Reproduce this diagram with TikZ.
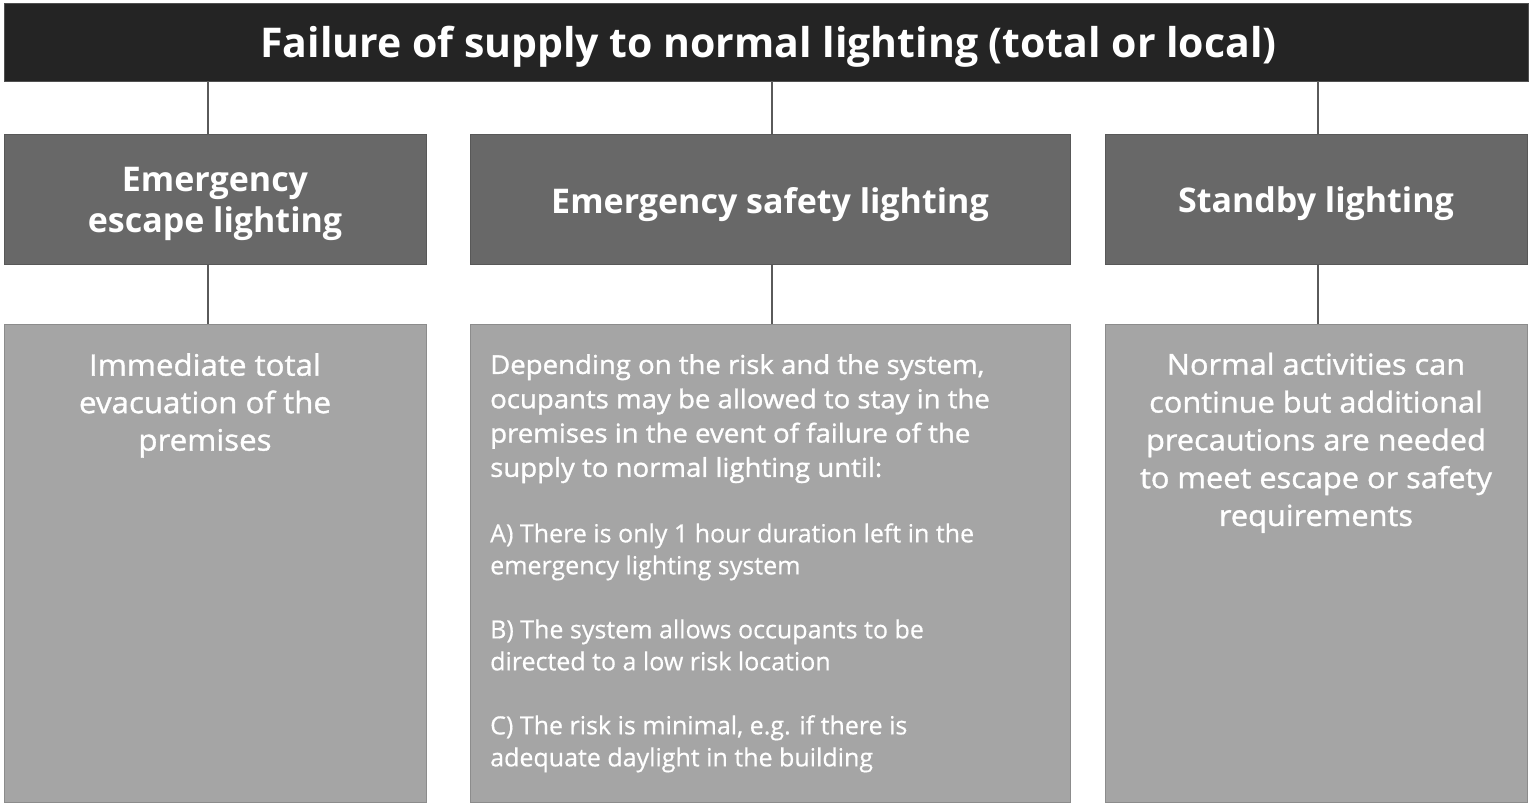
\documentclass[tikz,border=0pt]{standalone}
\usepackage{fontspec}
\setmainfont{Open Sans}
\newfontfamily\medfont[FakeBold=1.2,FakeStretch=1.06]{Open Sans}
\newfontfamily\regfont[FakeBold=0.5]{Open Sans}
\usetikzlibrary{positioning}
\definecolor{topgray}{HTML}{242424}
\definecolor{midgray}{HTML}{686868}
\definecolor{lowgray}{HTML}{A5A5A5}
\definecolor{linegray}{HTML}{5A5A5A}
\tikzset{
  topbox/.style={fill=topgray, draw=topgray!80!white, minimum width=1524pt, minimum height=78pt,
    text=white, text depth=0pt, font=\bfseries\fontsize{41}{46}\selectfont},
  midbox/.style={fill=midgray, draw=midgray!85!black, line width=1pt, minimum height=130pt,
    text=white, text depth=0pt, align=center, font=\bfseries\fontsize{34}{41}\selectfont},
  lowbox/.style={fill=lowgray, draw=lowgray!85!black, line width=1pt, minimum height=477pt},
  lowtext/.style={text=white, inner sep=0pt},
  link/.style={draw=linegray, line width=1.4pt}
}
\begin{document}
\begin{tikzpicture}[x=1pt,y=-1pt]
    \useasboundingbox (0,0) rectangle (1535,810);

    \node[topbox] (title) at (766,42) {\hspace*{5pt}Failure of supply to normal lighting (total or local)};

    \node[midbox, minimum width=422pt] (escape) at (215,200) {Emergency\\escape lighting};
    \node[midbox, minimum width=600pt] (safety) at (770,200) {Emergency safety lighting};
    \node[midbox, minimum width=422pt] (standby) at (1316,200) {Standby lighting};

    \node[lowbox, minimum width=422pt] (escapelow) at (215,563.5) {};
    \node[lowbox, minimum width=600pt] (safetylow) at (770,563.5) {};
    \node[lowbox, minimum width=422pt] (standbylow) at (1316,563.5) {};

    \node[lowtext, align=center, font=\medfont\fontsize{29.5}{37.5}\selectfont, anchor=north]
      (escapetxt) at (205,353) {Immediate total\\evacuation of the\\premises};
    \node[lowtext, text width=570pt, align=flush left, anchor=north west]
      (safetytxt) at (490,354) {{\medfont\fontsize{26}{34.3}\selectfont
        Depending on the risk and the system,\\ocupants may be allowed to stay in the\\premises in the event of failure of the\\supply to normal lighting until:\par}
        \vspace{33.5pt}
        {\regfont\fontsize{25}{32}\selectfont A) There is only 1 hour duration left in the\\emergency lighting system\par
        \vspace{32pt}
        B) The system allows occupants to be\\directed to a low risk location\par
        \vspace{32pt}
        C) The risk is minimal, e.g. if there is\\adequate daylight in the building\par}};
    \node[lowtext, align=center, font=\medfont\fontsize{29}{37.8}\selectfont, anchor=north]
      (standbytxt) at (1316,352.5) {Normal activities can\\continue but additional\\precautions are needed\\to meet escape or safety\\requirements};

    % connectors
    \draw[link] ([xshift=-7pt]escape.north |- title.south) -- ([xshift=-7pt]escape.north);
    \draw[link] ([xshift=2pt]safety.north |- title.south) -- ([xshift=2pt]safety.north);
    \draw[link] ([xshift=2pt]standby.north |- title.south) -- ([xshift=2pt]standby.north);
    \draw[link] ([xshift=-7pt]escape.south) -- ([xshift=-7pt]escapelow.north);
    \draw[link] ([xshift=2pt]safety.south) -- ([xshift=2pt]safetylow.north);
    \draw[link] ([xshift=2pt]standby.south) -- ([xshift=2pt]standbylow.north);
\end{tikzpicture}
\end{document}
